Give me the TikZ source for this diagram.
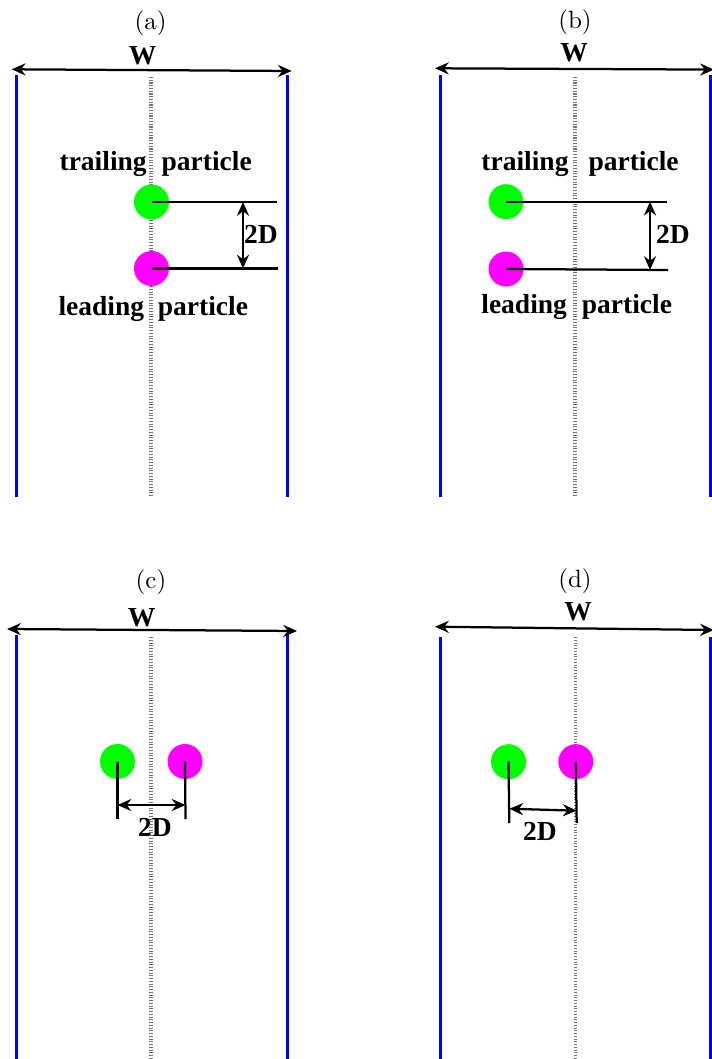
\documentclass[tikz,border=0pt]{standalone}
\usepackage{fontspec}
\usetikzlibrary{arrows.meta}
\newfontfamily\labelfont{Liberation Serif}
\definecolor{trailgreen}{RGB}{0,255,0}
\definecolor{leadmagenta}{RGB}{255,0,255}
\tikzset{
  wall/.style={blue,line width=1.2pt},
  midline/.style={black!55,line width=1.4pt,dash pattern=on 0.45pt off 0.65pt},
  trailing/.style={circle,fill=trailgreen,minimum size=14pt,inner sep=0pt},
  leading/.style={circle,fill=leadmagenta,minimum size=14pt,inner sep=0pt},
  boldlabel/.style={font=\labelfont\bfseries\fontsize{11}{13}\selectfont,inner sep=0pt,anchor=base},
  panellabel/.style={inner sep=0pt,anchor=base},
  dimline/.style={line width=0.9pt},
}
\begin{document}
\begin{tikzpicture}[x=0.4pt,y=-0.4pt,>={Stealth[length=5.5pt,width=4.8pt,inset=1.8pt]}]
	\useasboundingbox (0,0) rectangle (712,1059);
	% (a)
	\draw[wall] (16,75) -- (16,497);
	\draw[wall] (287,75) -- (287,497);
	\node[panellabel] (labela) at (150.7,29.5) {(a)};
	\node[boldlabel] (wa) at (142.7,65) {W};
	\coordinate (wla) at (11.7,69.3);
	\coordinate (wra) at (291.7,71);
	\draw[dimline,<->] (wla) -- (wra);
	\node[boldlabel] (traila) at (155.7,170.7) {trailing\hspace{6pt}particle};
	\node[boldlabel] (leada) at (153.3,315) {leading\hspace{5.5pt}particle};
	\draw[midline] (151,77) -- (151,497);
	\node[trailing] (ga) at (151.5,202) {};
	\node[leading] (ma) at (151.5,268.5) {};
	\coordinate (ta) at (277,202);
	\coordinate (la) at (278,268.5);
	\draw[dimline] (ga.center) -- (ta);
	\draw[dimline] (ma.center) -- (la);
	\coordinate (da1) at (243,202);
	\coordinate (da2) at (243,268.5);
	\draw[dimline,<->] (da1) -- (da2);
	\node[boldlabel] (twoda) at (261,243) {2D};
	% (b)
	\draw[wall] (440,75) -- (440,497);
	\draw[wall] (710,75) -- (710,497);
	\node[panellabel] (labelb) at (575,28.3) {(b)};
	\node[boldlabel] (wb) at (574,61.5) {W};
	\coordinate (wlb) at (435,68.3);
	\coordinate (wrb) at (714,69.6);
	\draw[dimline,<->] (wlb) -- (wrb);
	\node[boldlabel] (trailb) at (580,170) {trailing\hspace{8pt}particle};
	\node[boldlabel] (leadb) at (576.7,313) {leading\hspace{6pt}particle};
	\draw[midline] (575,77) -- (575,497);
	\node[trailing] (gb) at (506,201.7) {};
	\node[leading] (mb) at (506,269) {};
	\coordinate (tb) at (666.7,201.7);
	\coordinate (lb) at (668,270);
	\draw[dimline] (gb.center) -- (tb);
	\draw[dimline] (mb.center) -- (lb);
	\coordinate (db1) at (650,201.7);
	\coordinate (db2) at (650,270);
	\draw[dimline,<->] (db1) -- (db2);
	\node[boldlabel] (twodb) at (673,243) {2D};
	% (c)
	\draw[wall] (16,635) -- (16,1059);
	\draw[wall] (287,635) -- (287,1059);
	\node[panellabel] (labelc) at (151,588.3) {(c)};
	\node[boldlabel] (wc) at (141.7,626) {W};
	\coordinate (wlc) at (7,629);
	\coordinate (wrc) at (297,631);
	\draw[dimline,<->] (wlc) -- (wrc);
	\node[boldlabel] (twodc) at (155,836) {2D};
	\draw[midline] (151,637) -- (151,1059);
	\node[trailing] (gc) at (117.5,761.5) {};
	\node[leading] (mc) at (185,761.5) {};
	\coordinate (tc) at (117.5,819);
	\coordinate (lc) at (185.5,819);
	\draw[dimline] (gc.center) -- (tc);
	\draw[dimline] (mc.center) -- (lc);
	\coordinate (dc1) at (117.5,805);
	\coordinate (dc2) at (185.5,805);
	\draw[dimline,<->] (dc1) -- (dc2);
	% (d)
	\draw[wall] (440.7,637) -- (440.7,1059);
	\draw[wall] (710,637) -- (710,1059);
	\node[panellabel] (labeld) at (575,587) {(d)};
	\node[boldlabel] (wd) at (578,620) {W};
	\coordinate (wld) at (435,626.7);
	\coordinate (wrd) at (714,630);
	\draw[dimline,<->] (wld) -- (wrd);
	\node[boldlabel] (twodd) at (540,840) {2D};
	\draw[midline] (575.5,637) -- (575.5,1059);
	\node[trailing] (gd) at (508.5,761.7) {};
	\node[leading] (md) at (575.8,761.7) {};
	\coordinate (td) at (509.3,823);
	\coordinate (ld) at (576.7,823);
	\draw[dimline] (gd.center) -- (td);
	\draw[dimline] (md.center) -- (ld);
	\coordinate (dd1) at (509.3,808.7);
	\coordinate (dd2) at (576.7,810.7);
	\draw[dimline,<->] (dd1) -- (dd2);
\end{tikzpicture}
\end{document}
